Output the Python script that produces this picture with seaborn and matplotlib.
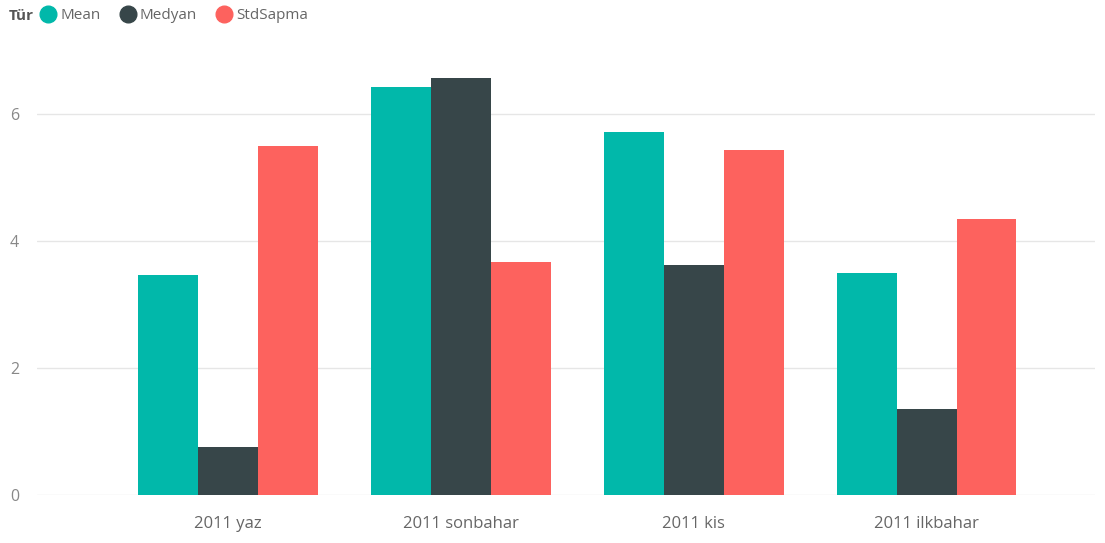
import matplotlib
matplotlib.use("Agg")
import matplotlib.pyplot as plt
from matplotlib.lines import Line2D
import pandas as pd
import seaborn as sns

# Seasons and statistic values
seasons = ["2011 yaz", "2011 sonbahar", "2011 kis", "2011 ilkbahar"]
mean_vals = [3.47, 6.42, 5.71, 3.50]
median_vals = [0.75, 6.57, 3.62, 1.36]
std_vals = [5.49, 3.67, 5.44, 4.35]
series_names = ["Mean", "Medyan", "StdSapma"]
yticks = [0, 2, 4, 6]

colors = ["#01B8AA", "#374649", "#FD625E"]

df = pd.DataFrame({
    "Season": seasons * 3,
    "Tür": [series_names[0]] * 4 + [series_names[1]] * 4 + [series_names[2]] * 4,
    "Value": mean_vals + median_vals + std_vals,
})

sns.set_theme(style="white")
plt.rcParams["font.family"] = ["Open Sans", "DejaVu Sans"]

fig = plt.figure(figsize=(11.05, 5.43), dpi=100)
ax = fig.add_axes([0.0335, 0.0884, 0.957, 0.801])

sns.barplot(data=df, x="Season", y="Value", hue="Tür", order=seasons,
            hue_order=series_names, palette=colors, width=0.77,
            saturation=1, linewidth=0, ax=ax, legend=False)

ax.set_xlim(-0.82, 3.72)
ax.set_ylim(0, 6.85)
ax.set_yticks(yticks)
ax.set_yticklabels([str(t) for t in yticks])
ax.set_xlabel("")
ax.set_ylabel("")
ax.yaxis.grid(True, color="#e6e6e6", linewidth=1)
ax.set_axisbelow(True)
for s in ax.spines.values():
    s.set_visible(False)
ax.tick_params(axis="y", length=0, pad=13, labelsize=11.5, labelcolor="#888888")
ax.tick_params(axis="x", length=0, pad=15, labelsize=12, labelcolor="#666666")

# Legend row at the top
fig.text(0.008, 0.971, "Tür", fontsize=11, fontweight="bold", color="#555555",
         va="center", ha="left")
handles = [Line2D([0], [0], marker="o", linestyle="", markersize=12,
                  markerfacecolor=c, markeredgecolor=c) for c in colors]
fig.legend(handles, series_names, loc="center left", bbox_to_anchor=(0.03, 0.971),
           ncol=3, frameon=False, fontsize=11, handletextpad=-0.2,
           columnspacing=0.75, labelcolor="#666666", borderaxespad=0, borderpad=0)

fig.savefig("out.png", dpi=100)
